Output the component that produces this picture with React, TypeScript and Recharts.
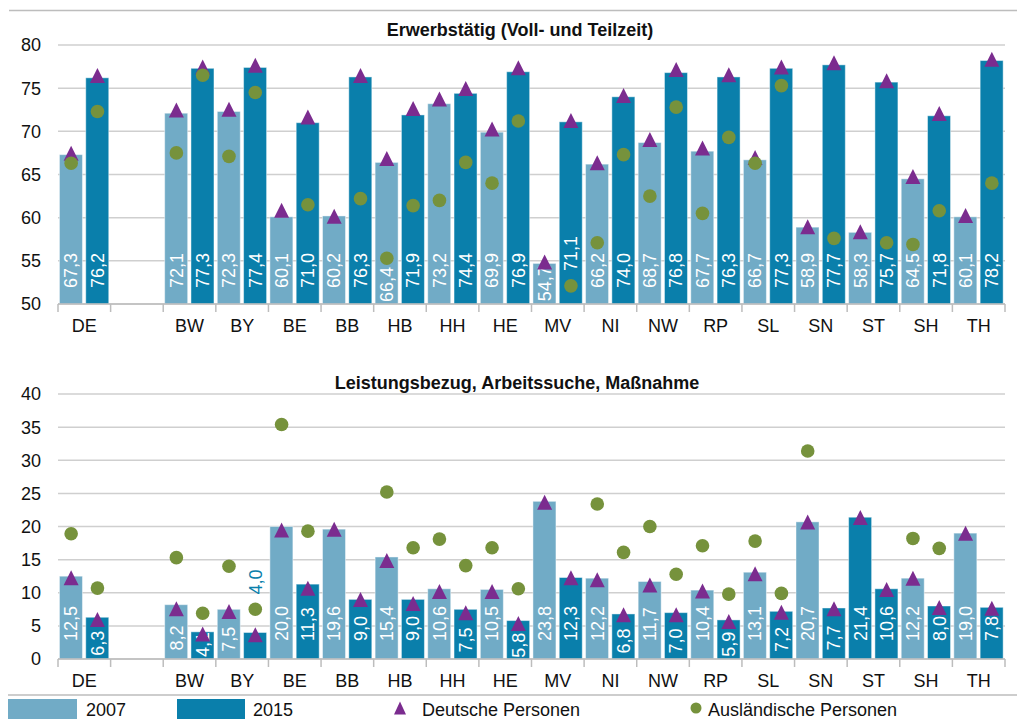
import React from 'react';
import { ComposedChart, Bar, Line, XAxis, YAxis, CartesianGrid } from 'recharts';

// ---------- data ----------
const REGIONS = ['DE', '', 'BW', 'BY', 'BE', 'BB', 'HB', 'HH', 'HE', 'MV', 'NI', 'NW', 'RP', 'SL', 'SN', 'ST', 'SH', 'TH'];
const YEARS = ['2007', '2015'];

const TOP_TITLE = 'Erwerbstätig (Voll- und Teilzeit)';
const TOP_TICKS = [50, 55, 60, 65, 70, 75, 80];
const TOP_2007 = [67.3, null, 72.1, 72.3, 60.1, 60.2, 66.4, 73.2, 69.9, 54.7, 66.2, 68.7, 67.7, 66.7, 58.9, 58.3, 64.5, 60.1];
const TOP_2015 = [76.2, null, 77.3, 77.4, 71.0, 76.3, 71.9, 74.4, 76.9, 71.1, 74.0, 76.8, 76.3, 77.3, 77.7, 75.7, 71.8, 78.2];
const TOP_DE_2007 = [67.4, null, 72.4, 72.5, 60.8, 60.1, 66.8, 73.7, 70.2, 54.8, 66.3, 69.0, 68.0, 66.9, 58.9, 58.3, 64.7, 60.2];
const TOP_DE_2015 = [76.4, null, 77.4, 77.6, 71.6, 76.4, 72.6, 74.9, 77.3, 71.2, 74.1, 77.1, 76.5, 77.4, 77.9, 75.8, 72.0, 78.3];
const TOP_AUS_2007 = [66.3, null, 67.5, 67.1, null, null, 55.3, 62.0, 64.0, null, 57.1, 62.5, 60.5, 66.3, null, null, 56.9, null];
const TOP_AUS_2015 = [72.3, null, 76.5, 74.5, 61.5, 62.2, 61.4, 66.4, 71.2, 52.1, 67.3, 72.8, 69.3, 75.3, 57.6, 57.1, 60.8, 64.0];

const BOTTOM_TITLE = 'Leistungsbezug, Arbeitssuche, Maßnahme';
const BOTTOM_TICKS = [0, 5, 10, 15, 20, 25, 30, 35, 40];
const BOTTOM_2007 = [12.5, null, 8.2, 7.5, 20.0, 19.6, 15.4, 10.6, 10.5, 23.8, 12.2, 11.7, 10.4, 13.1, 20.7, 21.4, 12.2, 19.0];
const BOTTOM_2015 = [6.3, null, 4.1, 4.0, 11.3, 9.0, 9.0, 7.5, 5.8, 12.3, 6.8, 7.0, 5.9, 7.2, 7.7, 10.6, 8.0, 7.8];
const BOTTOM_DE_2007 = [12.2, null, 7.5, 7.1, 19.4, 19.5, 14.8, 10.1, 10.1, 23.6, 11.9, 11.1, 10.2, 12.8, 20.6, 21.3, 12.1, 18.9];
const BOTTOM_DE_2015 = [5.9, null, 3.7, 3.6, 10.6, 8.9, 8.3, 6.9, 5.3, 12.2, 6.6, 6.6, 5.6, 7.0, 7.5, 10.4, 7.7, 7.6];
const BOTTOM_AUS_2007 = [18.9, null, 15.3, 14.0, 35.4, null, 25.2, 18.1, 16.8, null, 23.4, 20.0, 17.1, 17.8, 31.4, null, 18.2, null];
const BOTTOM_AUS_2015 = [10.7, null, 6.9, 7.5, 19.3, null, 16.8, 14.1, 10.6, null, 16.1, 12.8, 9.8, 9.9, null, null, 16.7, null];

const LEGEND_LABELS = ['2007', '2015', 'Deutsche Personen', 'Ausländische Personen'];

// ---------- style ----------
const FONT = '"Liberation Sans", Arial, Helvetica, sans-serif';
const C_2007 = '#71abc6';
const C_2015 = '#0a7fab';
const C_DE = '#7b2c8f';
const C_AUS = '#76923c';
const C_GRID = '#cfcfcf';
const C_AXIS = '#bdbdbd';
const C_TEXT = '#111111';
const FS = 18;

const CHART_W = 1017;
const Y_AXIS_W = 58;
const RIGHT_M = 12;
const PLOT_W = CHART_W - Y_AXIS_W - RIGHT_M;
const SLOT_W = PLOT_W / (REGIONS.length * 2);
const X_AXIS_H = 41;

type Row = { slot: string; region: string; year: string; value: number | null; de: number | null; aus: number | null };

function buildRows(v07: (number | null)[], v15: (number | null)[], d07: (number | null)[], d15: (number | null)[], a07: (number | null)[], a15: (number | null)[]): Row[] {
  const rows: Row[] = [];
  REGIONS.forEach((r, i) => {
    rows.push({ slot: `${i}-${YEARS[0]}`, region: r, year: YEARS[0], value: v07[i], de: d07[i], aus: a07[i] });
    rows.push({ slot: `${i}-${YEARS[1]}`, region: r, year: YEARS[1], value: v15[i], de: d15[i], aus: a15[i] });
  });
  return rows;
}

const TOP_ROWS = buildRows(TOP_2007, TOP_2015, TOP_DE_2007, TOP_DE_2015, TOP_AUS_2007, TOP_AUS_2015);
const BOTTOM_ROWS = buildRows(BOTTOM_2007, BOTTOM_2015, BOTTOM_DE_2007, BOTTOM_DE_2015, BOTTOM_AUS_2007, BOTTOM_AUS_2015);

const fmt = (v: number) => v.toFixed(1).replace('.', ',');
const textWidth = (s: string) => {
  let w = 0;
  for (const ch of s) w += ch === ',' ? 0.278 : 0.556;
  return w * FS;
};

type PanelCfg = { domainMin: number; pad: number; darkOverrides: string[] };

const TRI_HALF = 7.5;
const CIRC_R = 6.8;

function placeLabel(base: number, barTop: number, ppu: number, cfg: PanelCfg, row: Row, textLen: number) {
  const toY = (v: number) => base - (v - cfg.domainMin) * ppu;
  const ms: { top: number; bottom: number }[] = [];
  if (row.de != null) { const c = toY(row.de); ms.push({ top: c - TRI_HALF, bottom: c + TRI_HALF }); }
  if (row.aus != null) { const c = toY(row.aus); ms.push({ top: c - CIRC_R, bottom: c + CIRC_R }); }
  const hits = (s: number) => ms.filter((m) => Math.min(m.bottom, s) - Math.max(m.top, s - textLen) > 0.5);
  const s0 = base - cfg.pad;
  const hit = hits(s0);
  if (!hit.length) return { start: s0, inside: true };
  const lower = ms.filter((m) => m.bottom > s0 - textLen).map((m) => m.bottom);
  const room = base - Math.max(...lower);
  if (room >= textLen + 2) return { start: base - (room - textLen) / 2, inside: true };
  let above = Math.min(...hit.map((m) => m.top)) - 8;
  for (let k = 0; k < 5; k++) {
    const h = hits(above);
    if (!h.length) break;
    above = Math.min(...h.map((m) => m.top)) - 8;
  }
  if (above - textLen >= barTop + 2) return { start: above, inside: true };
  if (base - barTop >= textLen + 2) return { start: base - Math.max(2, (base - barTop - textLen) / 2), inside: true };
  return { start: above, inside: false };
}

const makeBarShape = (cfg: PanelCfg) => (props: any) => {
  const { x, y, width, height, payload } = props;
  const row: Row | undefined = payload;
  if (!row || row.value == null || !height) return <g />;
  const dark = row.year === YEARS[1] || cfg.darkOverrides.includes(`${row.region}-${row.year}`);
  const fill = dark ? C_2015 : C_2007;
  const base = y + height;
  const ppu = height / (row.value - cfg.domainMin);
  const label = fmt(row.value);
  const tl = textWidth(label);
  const { start, inside } = placeLabel(base, y, ppu, cfg, row, tl);
  const cx = x + width / 2;
  return (
    <g>
      <rect x={x} y={y} width={width} height={height} fill={fill} stroke="#ffffff" strokeOpacity={0.45} strokeWidth={1} />
      <text
        x={0}
        y={0}
        dy="0.36em"
        transform={`translate(${cx},${start}) rotate(-90)`}
        fontSize={FS}
        fill={inside ? '#ffffff' : fill}
        textAnchor="start"
      >
        {label}
      </text>
    </g>
  );
};

const TriangleDot = (props: any) => {
  const { cx, cy, payload, index } = props;
  if (cx == null || cy == null || !payload || payload.de == null) return <g key={`t${index}`} />;
  return <path key={`t${index}`} d={`M${cx},${cy - 8} L${cx + 7.5},${cy + 7} L${cx - 7.5},${cy + 7} Z`} fill={C_DE} />;
};

const CircleDot = (props: any) => {
  const { cx, cy, payload, index } = props;
  if (cx == null || cy == null || !payload || payload.aus == null) return <g key={`c${index}`} />;
  return <circle key={`c${index}`} cx={cx} cy={cy} r={CIRC_R} fill={C_AUS} />;
};

const SlotTick = (props: any) => {
  const { x, y, index, payload } = props;
  const i: number = index ?? payload?.index ?? 0;
  const parts: React.ReactNode[] = [];
  if (i % 2 === 0) {
    const bx = x - SLOT_W / 2;
    parts.push(<line key="l" x1={bx} x2={bx} y1={y} y2={y + 8} stroke={C_AXIS} strokeWidth={1.5} />);
    parts.push(
      <text key="t" x={x + SLOT_W / 2} y={y + 28} textAnchor="middle" fontSize={FS} fill={C_TEXT}>
        {REGIONS[i / 2]}
      </text>
    );
  }
  if (i === REGIONS.length * 2 - 1) {
    const bx = x + SLOT_W / 2;
    parts.push(<line key="e" x1={bx} x2={bx} y1={y} y2={y + 8} stroke={C_AXIS} strokeWidth={1.5} />);
  }
  return <g>{parts}</g>;
};

type PanelProps = { rows: Row[]; ticks: number[]; cfg: PanelCfg; height: number; top: number };

const Panel = ({ rows, ticks, cfg, height, top }: PanelProps) => (
  <ComposedChart
    width={CHART_W}
    height={height}
    data={rows}
    margin={{ top, right: RIGHT_M, bottom: 0, left: 0 }}
    barCategoryGap="5.5%"
  >
    <CartesianGrid vertical={false} stroke={C_GRID} strokeWidth={1.5} />
    <XAxis
      dataKey="slot"
      type="category"
      interval={0}
      height={X_AXIS_H}
      tickSize={0}
      tickMargin={0}
      tickLine={false}
      axisLine={{ stroke: C_AXIS, strokeWidth: 1.5 }}
      tick={(p: any) => <SlotTick {...p} />}
    />
    <YAxis
      type="number"
      domain={[ticks[0], ticks[ticks.length - 1]]}
      ticks={ticks}
      width={Y_AXIS_W}
      tickSize={0}
      tickMargin={17}
      tickLine={false}
      axisLine={false}
      tick={{ fontSize: FS, fill: C_TEXT }}
    />
    <Bar dataKey="value" shape={makeBarShape(cfg)} isAnimationActive={false} legendType="none" />
    <Line dataKey="de" stroke="none" dot={TriangleDot} activeDot={false} isAnimationActive={false} legendType="none" />
    <Line dataKey="aus" stroke="none" dot={CircleDot} activeDot={false} isAnimationActive={false} legendType="none" />
  </ComposedChart>
);

const TOP_CFG: PanelCfg = { domainMin: TOP_TICKS[0], pad: 16, darkOverrides: [] };
const BOTTOM_CFG: PanelCfg = { domainMin: BOTTOM_TICKS[0], pad: 18, darkOverrides: ['ST-2007'] };

export default function App() {
  return (
    <div
      style={{
        position: 'absolute',
        left: 0,
        top: 0,
        width: 1017,
        height: 719,
        overflow: 'hidden',
        background: '#ffffff',
        fontFamily: FONT,
      }}
    >
      <div style={{ position: 'absolute', left: 0, top: 0 }}>
        <Panel rows={TOP_ROWS} ticks={TOP_TICKS} cfg={TOP_CFG} height={345} top={45} />
      </div>
      <div style={{ position: 'absolute', left: 0, top: 350 }}>
        <Panel rows={BOTTOM_ROWS} ticks={BOTTOM_TICKS} cfg={BOTTOM_CFG} height={350} top={44} />
      </div>
      <svg width={1017} height={719} style={{ position: 'absolute', left: 0, top: 0, pointerEvents: 'none' }}>
        <line x1={9} x2={1017} y1={10.5} y2={10.5} stroke={C_AXIS} strokeWidth={1.5} />
        <text x={520} y={36} textAnchor="middle" fontSize={18} fontWeight="bold" fill={C_TEXT}>
          {TOP_TITLE}
        </text>
        <text x={517} y={389} textAnchor="middle" fontSize={18} fontWeight="bold" fill={C_TEXT}>
          {BOTTOM_TITLE}
        </text>
        <line x1={8} x2={1017} y1={695} y2={695} stroke={C_AXIS} strokeWidth={1.5} />
        <rect x={8} y={699} width={69} height={25} fill={C_2007} />
        <text x={86} y={716} fontSize={FS} fill={C_TEXT}>{LEGEND_LABELS[0]}</text>
        <rect x={177} y={699} width={68} height={25} fill={C_2015} />
        <text x={253} y={716} fontSize={FS} fill={C_TEXT}>{LEGEND_LABELS[1]}</text>
        <path d="M400,701.5 L406,714.5 L394,714.5 Z" fill={C_DE} />
        <text x={422} y={716} fontSize={FS} fill={C_TEXT}>{LEGEND_LABELS[2]}</text>
        <circle cx={696} cy={708} r={5.5} fill={C_AUS} />
        <text x={708} y={716} fontSize={FS} fill={C_TEXT}>{LEGEND_LABELS[3]}</text>
      </svg>
    </div>
  );
}
